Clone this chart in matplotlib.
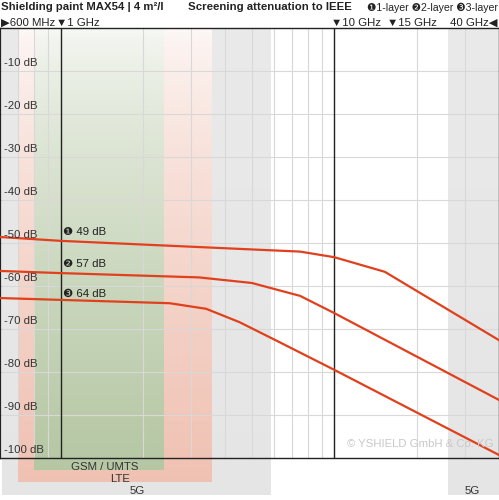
import numpy as np
import matplotlib.pyplot as plt
import matplotlib.transforms as mtrans

plt.rcParams["font.family"] = ["Liberation Sans", "DejaVu Sans"]

# curve data: frequency (GHz) vs attenuation (dB)
f1 = [0.6, 1.0, 7.5, 10.0, 15.3, 40.0]
a1 = [-48.6, -49.5, -52.0, -53.3, -56.7, -72.6]
f2 = [0.6, 1.0, 3.2, 5.0, 7.5, 10.0, 40.0]
a2 = [-56.5, -57.0, -58.0, -59.3, -62.3, -66.3, -86.5]
f3 = [0.6, 2.5, 3.4, 4.5, 6.1, 10.0, 40.0]
a3 = [-62.8, -64.0, -65.3, -68.4, -72.6, -79.5, -99.3]
labels = ["\u2776 49 dB", "\u2777 57 dB", "\u2778 64 dB"]
ytick_vals = list(range(-10, -101, -10))

# frequency bands (GHz) and their lower edge below the axis (dB)
bands = [
    ("5G", 0.61, 5.9, -108.6, "gray"),
    ("5G", 26.0, 45.0, -108.6, "gray"),
    ("LTE", 0.7, 3.6, -105.6, "red"),
    ("GSM / UMTS", 0.8, 2.4, -102.8, "green"),
]
band_cols = {"gray": (0.90, 0.90, 0.90), "red": (0.94, 0.76, 0.70), "green": (0.71, 0.78, 0.64)}

fig = plt.figure(figsize=(4.99, 5.0), dpi=100)
ax = fig.add_axes([0, 42 / 500, 1, 430 / 500])
ax.set_xscale("log")

grad = np.linspace(0, 1, 256).reshape(-1, 1)
for name, lo, hi, bottom, c in bands:
    rgb = np.array(band_cols[c])
    if c == "gray":
        t = 0.85 + 0.15 * grad
    else:
        t = 0.1 + 0.9 * grad ** 0.7
    img = np.ones((256, 1, 3)) * (1 - t[..., None]) + rgb * t[..., None]
    im = ax.imshow(img, extent=[lo, hi, bottom, 0], aspect="auto", zorder=0, origin="upper")
    im.set_clip_on(False)
ax.set_xlim(0.6, 40)
ax.set_ylim(-100, 0)

fs = 8.2
# band labels
ax.text(1.45, -101.0, "GSM / UMTS", ha="center", va="top", fontsize=fs, color="#333")
ax.text(1.65, -103.8, "LTE", ha="center", va="top", fontsize=fs, color="#333")
ax.text(1.9, -106.4, "5G", ha="center", va="top", fontsize=fs, color="#333")
ax.text(32, -106.4, "5G", ha="center", va="top", fontsize=fs, color="#333")

# grid
gx = [0.7, 0.8, 0.9] + list(range(2, 10)) + [20, 30]
for g in gx:
    ax.axvline(g, color="#d8d8d8", lw=0.8, zorder=1)
for v in ytick_vals:
    ax.axhline(v, color="#d8d8d8", lw=0.8, zorder=1)
ax.axvline(1, color="#222", lw=1.0, zorder=2)
ax.axvline(10, color="#222", lw=1.0, zorder=2)

blend = mtrans.blended_transform_factory(ax.transAxes, ax.transData)
for v in ytick_vals:
    ax.text(0.008, v + 0.8, f"{v} dB", transform=blend, fontsize=fs, color="#333", va="bottom", zorder=4)

for f, a, lab in zip([f1, f2, f3], [a1, a2, a3], labels):
    ax.plot(f, a, color="#e0401c", lw=1.6, zorder=3)
    ax.text(1.02, a[1] + 1.0, lab, fontsize=fs, color="#222", va="bottom", zorder=4)

ax.text(0.99, -97.5, "\u00a9 YSHIELD GmbH & Co. KG", transform=blend, ha="right", fontsize=fs,
        color="#c8c8c8", zorder=4)

ax.set_xticks([])
ax.set_yticks([])
ax.minorticks_off()
for s in ax.spines.values():
    s.set_color("#222")
    s.set_linewidth(1.0)

fig.text(0.003, 0.995, "Shielding paint MAX54 | 4 m\u00b2/l", fontsize=fs, fontweight="bold", va="top", color="#222")
fig.text(0.705, 0.995, "Screening attenuation to IEEE", fontsize=fs, fontweight="bold", va="top",
         ha="right", color="#222")
fig.text(0.997, 0.995, "\u27761-layer \u27772-layer \u27783-layer", fontsize=7.6, va="top", ha="right", color="#222")
fig.text(0.003, 0.965, "\u25b6600 MHz", fontsize=fs, va="top", color="#222")
fig.text(0.113, 0.965, "\u25bc1 GHz", fontsize=fs, va="top", color="#222")
fig.text(0.664, 0.965, "\u25bc10 GHz", fontsize=fs, va="top", color="#222")
fig.text(0.776, 0.965, "\u25bc15 GHz", fontsize=fs, va="top", color="#222")
fig.text(0.997, 0.965, "40 GHz\u25c0", fontsize=fs, va="top", ha="right", color="#222")

fig.savefig("out.png", dpi=100)
